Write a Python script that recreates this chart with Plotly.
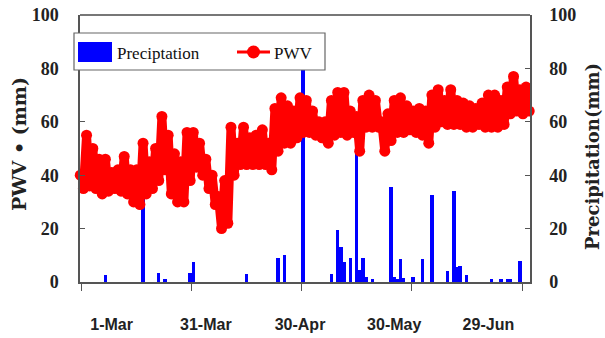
import plotly.graph_objects as go
import pandas as pd

# ---------------- data ----------------
pwv_start = "2014-02-19"          # first PWV sample, every 2 days
pwv_high = [40, 55, 50, 46, 46, 41, 42, 47, 42, 42, 52, 45, 50, 62, 55, 48, 45, 56,
            56, 52, 46, 40, 32, 38, 58, 52, 58, 54, 55, 57, 52, 65, 69, 66, 64, 69,
            68, 64, 60, 60, 68, 71, 71, 64, 62, 68, 70, 68, 60, 63, 68, 69, 66, 64,
            65, 64, 70, 72, 68, 72, 68, 67, 66, 65, 67, 70, 70, 68, 73, 77, 72, 73]
pwv_low = [35, 36, 35, 33, 34, 35, 34, 33, 30, 29, 33, 35, 38, 42, 33, 30, 30, 38,
           43, 40, 35, 29, 20, 22, 40, 44, 44, 44, 44, 44, 42, 49, 52, 52, 54, 56,
           56, 55, 54, 52, 55, 56, 55, 56, 49, 58, 58, 58, 49, 53, 56, 56, 57, 56,
           55, 52, 58, 60, 59, 59, 59, 58, 58, 59, 58, 58, 58, 59, 63, 64, 63, 64]

precip_dates = ["2014-02-27", "2014-03-11", "2014-03-16", "2014-03-18", "2014-03-26",
                "2014-03-27", "2014-04-13", "2014-04-23", "2014-04-25", "2014-05-01",
                "2014-05-10", "2014-05-12", "2014-05-13", "2014-05-14", "2014-05-16",
                "2014-05-18", "2014-05-19", "2014-05-20", "2014-05-21", "2014-05-23",
                "2014-05-29", "2014-05-30", "2014-05-31", "2014-06-01", "2014-06-02",
                "2014-06-05", "2014-06-08", "2014-06-11", "2014-06-16", "2014-06-18",
                "2014-06-19", "2014-06-20", "2014-06-22", "2014-06-30", "2014-07-03",
                "2014-07-05", "2014-07-06", "2014-07-09"]
precip_mm = [2.5, 33, 3.5, 1, 3.5, 7.5, 3, 9, 10, 85,
             3, 19.5, 13, 7.5, 9, 58, 4.5, 9, 2, 1,
             35.5, 2, 1, 8.5, 1.5, 2, 8.5, 32.5, 4, 34,
             5.5, 6, 2.5, 1, 1, 1, 1, 8]

tick_dates = ["2014-03-01", "2014-03-31", "2014-04-30", "2014-05-30", "2014-06-29"]
tick_labels = ["1-Mar", "31-Mar", "30-Apr", "30-May", "29-Jun"]
tick_mark_dates = ["2014-02-19 06:00", "2014-03-26 07:00", "2014-04-30 14:00",
                   "2014-06-04 14:00", "2014-07-09 22:00"]
y_ticks = [0, 20, 40, 60, 80, 100]
x_range = ["2014-02-18 22:00", "2014-07-12 06:00"]

# ---------------- build series ----------------
d_high = pd.date_range(pwv_start, periods=len(pwv_high), freq="2D")
d_low = d_high + pd.Timedelta(days=1)
pwv_x, pwv_y = [], []
for a, b, c, d in zip(d_high, pwv_high, d_low, pwv_low):
    pwv_x += [a, c]
    pwv_y += [b, d]

W, H = 605, 338
L, R, T, B = 80, 75, 15, 56
PW, PH = W - L - R, H - T - B


def px(x):           # page pixel -> paper fraction
    return (x - L) / PW


def py(y):
    return (H - B - y) / PH


RED = "#ff0000"
BLUE = "#0000ff"
AXC = "#555555"

fig = go.Figure()
fig.add_trace(go.Bar(x=precip_dates, y=precip_mm, marker_color=BLUE,
                     marker_line_width=0, width=1.1 * 86400000, name="Preciptation"))
fig.add_trace(go.Scatter(x=pwv_x, y=pwv_y, mode="lines+markers", name="PWV",
                         line=dict(color=RED, width=9),
                         marker=dict(color=RED, size=11), cliponaxis=False))
# helper trace so that the right axis and tick-mark axis are drawn
fig.add_trace(go.Scatter(x=[], y=[], xaxis="x2", yaxis="y2", showlegend=False))

tick_font = dict(family="Liberation Serif", size=18, color="#222", weight="bold")

fig.update_layout(
    width=W, height=H, margin=dict(l=L, r=R, t=T, b=B, autoexpand=False),
    paper_bgcolor="white", plot_bgcolor="white", showlegend=False,
    bargap=0,
    xaxis=dict(type="date", range=x_range, tickvals=tick_dates, ticktext=tick_labels,
               ticks="outside", ticklen=27, tickcolor="rgba(0,0,0,0)",
               tickfont=dict(family="Liberation Sans", size=16, color="#222", weight="bold"),
               showline=True, linecolor=AXC, linewidth=1.5,
               showgrid=False, zeroline=False, automargin=False),
    xaxis2=dict(type="date", range=x_range, overlaying="x", anchor="y2",
                tickvals=tick_mark_dates, showticklabels=False, ticks="outside",
                ticklen=8, tickwidth=1, tickcolor=AXC, showline=False,
                showgrid=False, zeroline=False, automargin=False),
    yaxis=dict(range=[0, 100], tickvals=y_ticks, ticks="inside", ticklen=5,
               tickcolor=AXC, tickfont=tick_font, ticklabelstandoff=16,
               ticklabeloverflow="allow",
               showline=True, linecolor=AXC, linewidth=1.5,
               showgrid=False, zeroline=False, automargin=False),
    yaxis2=dict(range=[0, 100], tickvals=y_ticks, ticks="inside", ticklen=5,
                tickcolor=AXC, tickfont=tick_font, ticklabelstandoff=14,
                ticklabeloverflow="allow",
                overlaying="y", side="right", anchor="x",
                showline=True, linecolor=AXC, linewidth=1.5,
                showgrid=False, zeroline=False, automargin=False),
)

# top frame line
fig.add_shape(type="line", xref="paper", yref="paper", x0=0, x1=1, y0=1, y1=1,
              line=dict(color="#777", width=2), layer="above")

title_font = dict(family="DejaVu Serif", size=19, color="#222", weight="bold")
fig.add_annotation(text="PWV • (mm)", xref="paper", yref="paper",
                   x=px(19), y=py(144), textangle=-90, showarrow=False,
                   font=title_font, xanchor="center", yanchor="middle")
fig.add_annotation(text="Precipitation(mm)", xref="paper", yref="paper",
                   x=px(592), y=py(157), textangle=-90, showarrow=False,
                   font=dict(family="DejaVu Serif", size=18, color="#222", weight="bold"),
                   xanchor="center", yanchor="middle")

# legend box drawn from shapes
fig.add_shape(type="rect", xref="paper", yref="paper", x0=px(74), x1=px(325),
              y0=py(70), y1=py(33), line=dict(color="#666", width=1.2),
              fillcolor="white", layer="above")
fig.add_shape(type="rect", xref="paper", yref="paper", x0=px(78), x1=px(112),
              y0=py(62), y1=py(42), line=dict(width=0), fillcolor=BLUE, layer="above")
fig.add_shape(type="line", xref="paper", yref="paper", x0=px(237), x1=px(270),
              y0=py(52), y1=py(52), line=dict(color=RED, width=3), layer="above")
fig.add_shape(type="circle", xref="paper", yref="paper", x0=px(247), x1=px(260),
              y0=py(58.5), y1=py(45.5), line=dict(width=0), fillcolor=RED, layer="above")
leg_font = dict(family="Liberation Serif", size=17, color="#111")
fig.add_annotation(text="Preciptation", xref="paper", yref="paper", x=px(115), y=py(53),
                   xanchor="left", yanchor="middle", showarrow=False, font=leg_font)
fig.add_annotation(text="PWV", xref="paper", yref="paper", x=px(272), y=py(53),
                   xanchor="left", yanchor="middle", showarrow=False, font=leg_font)

# remove the browser's default 8px page margin so the figure fills the window
fig.write_html("out.html", config={"displayModeBar": False},
               post_script="document.body.style.margin='0';")
